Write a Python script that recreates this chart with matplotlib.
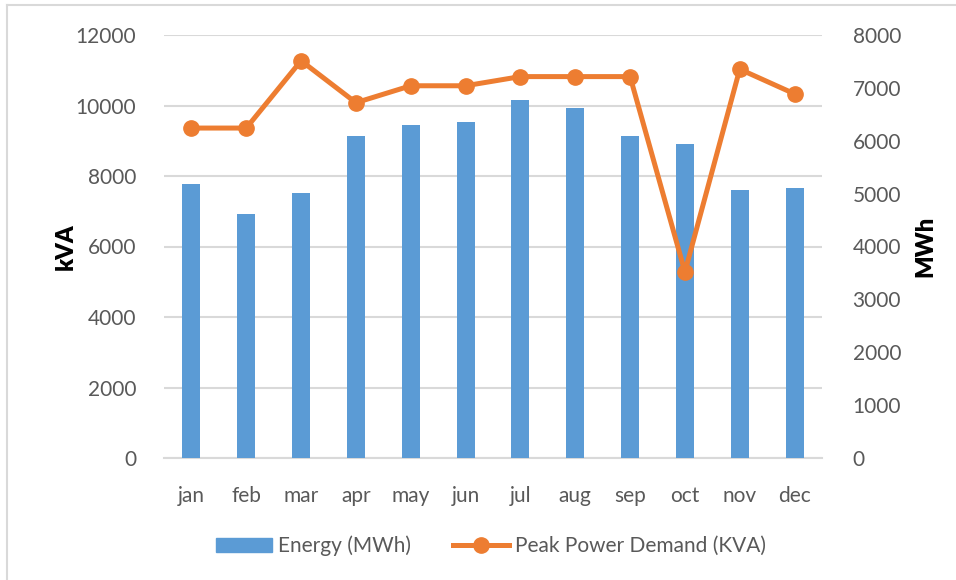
import matplotlib
matplotlib.use("Agg")
import matplotlib.pyplot as plt
from matplotlib.lines import Line2D

plt.rcParams['font.family'] = ['Lato', 'DejaVu Sans']

months = ['jan', 'feb', 'mar', 'apr', 'may', 'jun', 'jul', 'aug', 'sep', 'oct', 'nov', 'dec']
energy_mwh = [5180, 4615, 5010, 6090, 6300, 6355, 6770, 6620, 6090, 5940, 5070, 5105]
peak_kva = [9360, 9360, 11270, 10080, 10560, 10560, 10820, 10820, 10820, 5280, 11030, 10330]

left_ticks = [0, 2000, 4000, 6000, 8000, 10000, 12000]
right_ticks = [0, 1000, 2000, 3000, 4000, 5000, 6000, 7000, 8000]

bar_color = '#5B9BD5'
line_color = '#ED7D31'
text_color = '#595959'
grid_color = '#D9D9D9'

fig = plt.figure(figsize=(9.56, 5.8), dpi=100)
ax = fig.add_axes([164 / 956, 122 / 580, 658 / 956, 423 / 580])
x = list(range(len(months)))

# left axis: kVA, gridlines
ax.set_ylim(0, 12000)
ax.set_yticks(left_ticks)
ax.set_xlim(-0.5, len(months) - 0.5)
ax.set_xticks(x)
ax.set_xticklabels(months)
ax.grid(axis='y', color=grid_color, linewidth=1.5)
ax.set_axisbelow(True)
for s in ['top', 'right', 'left']:
    ax.spines[s].set_visible(False)
ax.spines['bottom'].set_color(grid_color)
ax.spines['bottom'].set_linewidth(1.5)
ax.tick_params(axis='both', length=0, labelsize=15, labelcolor=text_color)
ax.tick_params(axis='y', pad=20)
ax.tick_params(axis='x', pad=20)
ax.set_ylabel('kVA', fontsize=17, fontweight='heavy', color='black')
ax.yaxis.set_label_coords(-0.132, 0.5)

# right axis: MWh, bars
ax2 = ax.twinx()
ax2.bar(x, energy_mwh, width=0.33, color=bar_color, zorder=2)
ax2.set_ylim(0, 8000)
ax2.set_yticks(right_ticks)
for s in ax2.spines.values():
    s.set_visible(False)
ax2.tick_params(axis='y', length=0, labelsize=15, labelcolor=text_color, pad=22)
ax2.set_ylabel('MWh', fontsize=17, fontweight='heavy', color='black')
ax2.yaxis.set_label_coords(1.14, 0.5)

# line on top, same scale as left axis
ax3 = ax.twinx()
ax3.set_ylim(0, 12000)
ax3.plot(x, peak_kva, color=line_color, linewidth=3.6, marker='o', markersize=11,
         solid_joinstyle='round')
ax3.axis('off')

# chart border (left and top edges visible)
fig.add_artist(Line2D([7 / 956, 7 / 956], [0, 1 - 5 / 580], transform=fig.transFigure,
                      color=grid_color, linewidth=1.5))
fig.add_artist(Line2D([7 / 956, 1], [1 - 5 / 580, 1 - 5 / 580], transform=fig.transFigure,
                      color=grid_color, linewidth=1.5))

handles = [
    plt.Rectangle((0, 0), 1, 1, color=bar_color),
    Line2D([], [], color=line_color, linewidth=3.6, marker='o', markersize=11),
]
leg = fig.legend(handles, ['Energy (MWh)', 'Peak Power Demand (KVA)'],
                 loc='center', bbox_to_anchor=(491 / 956, 34 / 580), ncol=2,
                 frameon=False, fontsize=15, handlelength=2.7, handleheight=0.6,
                 handletextpad=0.3, columnspacing=2.0)
for t in leg.get_texts():
    t.set_color(text_color)

fig.savefig('out.png', dpi=100)
